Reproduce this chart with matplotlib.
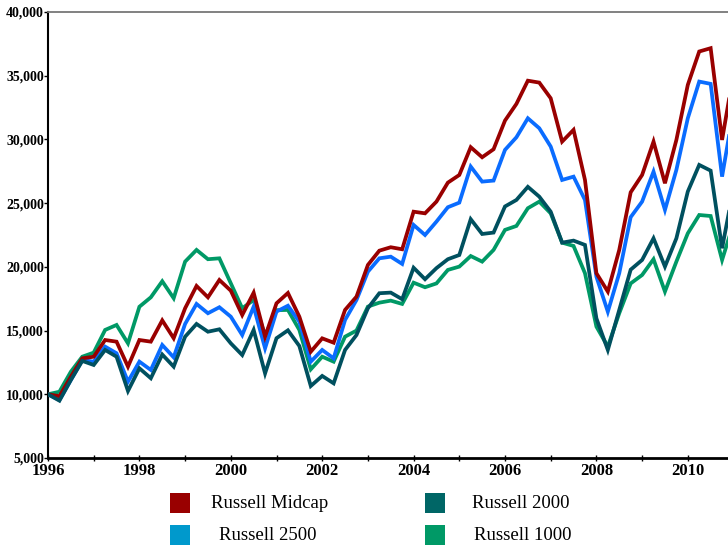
import matplotlib
matplotlib.use("Agg")
import matplotlib.pyplot as plt
import numpy as np
from matplotlib.patches import Rectangle
from matplotlib.ticker import FuncFormatter, MultipleLocator

# ---- data (quarterly, starting 1996 Q1) ----
start_year = 1996.0
step = 0.25

midcap = [10000, 9850, 11380, 12820, 12950, 14260, 14130, 12170, 14260, 14130,
          15800, 14400, 16750, 18500, 17610, 18970, 18130, 16220, 17970, 14520,
          17140, 17950, 16090, 13340, 14390, 14050, 16620, 17660, 20150, 21270,
          21540, 21380, 24330, 24200, 25120, 26610, 27210, 29390, 28600, 29230,
          31480, 32790, 34610, 34460, 33230, 29830, 30750, 26820, 19500, 18060,
          21330, 25850, 27210, 29830, 26560, 29960, 34280, 36900, 37160, 29960,
          35200]
r2500 = [10000, 9550, 11120, 12690, 12560, 13740, 13220, 10990, 12560, 11910,
         13870, 12900, 15520, 17090, 16360, 16830, 16090, 14650, 16880, 13610,
         16490, 16950, 15700, 12560, 13480, 12820, 15830, 17400, 19620, 20670,
         20800, 20230, 23290, 22500, 23550, 24680, 25040, 27870, 26690, 26770,
         29180, 30170, 31660, 30880, 29440, 26820, 27080, 25250, 19230, 16480,
         19500, 23900, 25120, 27470, 24470, 27610, 31660, 34540, 34360, 27080,
         32320]
r2000 = [10000, 9500, 11120, 12620, 12300, 13480, 12950, 10260, 12040, 11260,
         13120, 12170, 14520, 15520, 14910, 15100, 14000, 13080, 15050, 11640,
         14400, 15020, 13790, 10650, 11440, 10860, 13480, 14650, 16750, 17930,
         17980, 17460, 19930, 19030, 19900, 20600, 20930, 23740, 22580, 22690,
         24740, 25250, 26280, 25510, 24330, 21900, 22060, 21720, 15960, 13480,
         16620, 19780, 20540, 22240, 20020, 22240, 25910, 28000, 27550, 21460,
         26160]
r1000 = [10000, 10200, 11770, 12950, 13270, 15050, 15440, 14000, 16870, 17610,
         18870, 17540, 20410, 21330, 20600, 20670, 18710, 16750, 17400, 14600,
         16600, 16620, 15050, 11960, 12950, 12560, 14520, 15000, 16880, 17190,
         17350, 17090, 18760, 18400, 18700, 19760, 20020, 20850, 20410, 21330,
         22900, 23210, 24600, 25120, 24200, 21900, 21640, 19500, 15310, 13740,
         16360, 18700, 19360, 20600, 18060, 20410, 22630, 24070, 23990, 20540,
         23420]

series_names = ["Russell Midcap", "Russell 2500", "Russell 2000", "Russell 1000"]
line_colors = ["#990000", "#0a6cff", "#00505f", "#009966"]
legend_colors = ["#990000", "#0099cc", "#006666", "#009966"]

x = start_year + step * np.arange(len(midcap))

fig = plt.figure(figsize=(7.28, 5.48), dpi=100)
ax = fig.add_axes([48/728, 90/548, 680/728, 446/548])

data = [midcap, r2500, r2000, r1000]
order = [3, 1, 0, 2]
for i in order:
    ax.plot(x, data[i], color=line_colors[i], lw=2.7, solid_joinstyle="miter",
            clip_on=True, zorder=3)

ax.set_xlim(1996, 1996 + 680/45.7)
ax.set_ylim(5000, 40000)

ax.xaxis.set_major_locator(MultipleLocator(2))
ax.xaxis.set_minor_locator(MultipleLocator(1))
ax.yaxis.set_major_locator(MultipleLocator(5000))
ax.yaxis.set_major_formatter(FuncFormatter(lambda v, p: f"{int(v):,}"))
ax.xaxis.set_major_formatter(FuncFormatter(lambda v, p: f"{int(round(v))}"))

for lab in ax.get_yticklabels():
    lab.set_fontfamily("Liberation Serif")
    lab.set_fontweight("bold")
    lab.set_fontsize(10)
for lab in ax.get_xticklabels():
    lab.set_fontfamily("Liberation Serif")
    lab.set_fontweight("bold")
    lab.set_fontsize(12)

ax.tick_params(axis="x", which="major", direction="inout", length=5, width=1,
               pad=1)
ax.tick_params(axis="x", which="minor", direction="inout", length=5, width=1)
ax.tick_params(axis="y", direction="out", length=3, width=1, pad=0)

ax.spines["left"].set_linewidth(1.5)
ax.spines["left"].set_color("black")
ax.spines["bottom"].set_linewidth(2)
ax.spines["bottom"].set_color("black")
ax.spines["top"].set_color("#777777")
ax.spines["top"].set_linewidth(1.3)
ax.spines["right"].set_visible(False)

# ---- legend (manual, figure coordinates) ----
W, H = 728.0, 548.0
sq = 20
positions = [(170, 493, 270), (170, 525, 268), (425, 493, 521), (425, 525, 523)]
for (px, py, tx), name, col in zip(positions, series_names, legend_colors):
    fig.patches.append(Rectangle((px / W, 1 - (py + sq) / H), sq / W, sq / H,
                                 transform=fig.transFigure, facecolor=col,
                                 edgecolor="none"))
    fig.text(tx / W, 1 - (py + sq / 2) / H, name, ha="center", va="center",
             family="Liberation Serif", fontsize=13.5, color="black")

fig.savefig("out.png", dpi=100)
